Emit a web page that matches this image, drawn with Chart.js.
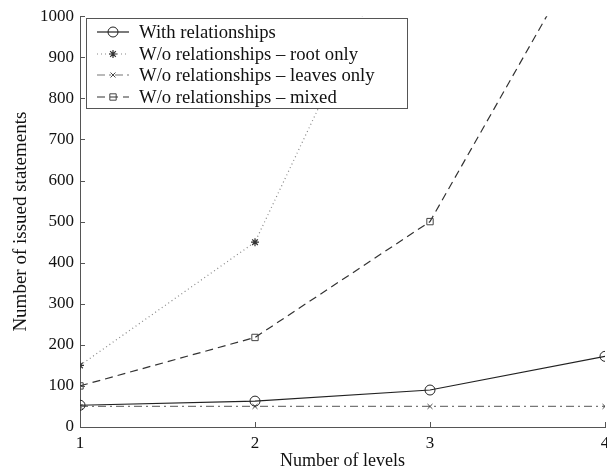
<!DOCTYPE html>
<html>
<head>
<meta charset="utf-8">
<script src="https://cdn.jsdelivr.net/npm/chart.js@4.4.0/dist/chart.umd.min.js"></script>
<style>
  html, body { margin: 0; padding: 0; background: #fff; }
  #wrap { width: 607px; height: 472px; }
</style>
</head>
<body>
<div id="wrap"><canvas id="levelsChart" width="607" height="472"></canvas></div>
<script>
// datos
var levels = [1, 2, 3, 4];
var withRel = [53, 63, 90, 172];
var rootOnly = [150, 450, 1350, 4000];
var leavesOnly = [50, 50, 50, 50];
var mixed = [100, 218, 500, 1250];
var yTicks = [0, 100, 200, 300, 400, 500, 600, 700, 800, 900, 1000];

var seriesNames = [
    'With relationships',
    'W/o relationships \u2013 root only',
    'W/o relationships \u2013 leaves only',
    'W/o relationships \u2013 mixed'
];

function pts(values) {
    return levels.map(function(l, i) { return { x: l, y: values[i] }; });
}

var serif = '"Liberation Serif", "DejaVu Serif", serif';

var datasets = [
    { label: seriesNames[0], data: pts(withRel), borderColor: '#222', borderWidth: 1.2,
      pointStyle: 'circle', pointRadius: 5, pointBorderColor: '#222', pointBackgroundColor: 'rgba(0,0,0,0)', pointBorderWidth: 1 },
    { label: seriesNames[1], data: pts(rootOnly), borderColor: '#888', borderWidth: 1.2, borderDash: [1, 3],
      pointStyle: 'star', pointRadius: 4, pointBorderColor: '#333', pointBackgroundColor: '#333', pointBorderWidth: 1.2 },
    { label: seriesNames[2], data: pts(leavesOnly), borderColor: '#777', borderWidth: 1.2, borderDash: [8, 4, 2, 4],
      pointStyle: 'crossRot', pointRadius: 3.5, pointBorderColor: '#444', pointBorderWidth: 1 },
    { label: seriesNames[3], data: pts(mixed), borderColor: '#333', borderWidth: 1.2, borderDash: [8, 5],
      pointStyle: 'rect', pointRadius: 4.5, pointBorderColor: '#444', pointBackgroundColor: 'rgba(0,0,0,0)', pointBorderWidth: 1 }
];

// marcas de las escalas hacia dentro, etiquetas de x y leyenda dentro del area
var insidePlugin = {
    id: 'insideStuff',
    afterDraw: function(chart) {
        var ctx = chart.ctx;
        var xs = chart.scales.x, ys = chart.scales.y;
        var a = chart.chartArea;
        ctx.save();
        ctx.strokeStyle = '#555';
        ctx.lineWidth = 1;
        ctx.beginPath();
        yTicks.forEach(function(v) {
            var py = Math.round(ys.getPixelForValue(v)) + 0.5;
            ctx.moveTo(a.left, py);
            ctx.lineTo(a.left + 5, py);
        });
        levels.forEach(function(l) {
            var px = Math.round(xs.getPixelForValue(l)) + 0.5;
            ctx.moveTo(px, a.bottom);
            ctx.lineTo(px, a.bottom - 5);
        });
        ctx.stroke();

        // etiquetas del eje x (el 4 queda cortado en el borde, como en el original)
        ctx.fillStyle = '#111';
        ctx.font = '17px ' + serif;
        ctx.textAlign = 'center';
        ctx.textBaseline = 'top';
        levels.forEach(function(l) {
            ctx.fillText(String(l), xs.getPixelForValue(l), a.bottom + 8);
        });

        // leyenda
        var bx = 86.5, by = 18.5, bw = 321, bh = 90;
        ctx.fillStyle = '#fff';
        ctx.fillRect(bx, by, bw, bh);
        ctx.strokeStyle = '#555';
        ctx.setLineDash([]);
        ctx.strokeRect(bx, by, bw, bh);
        var rows = [32, 54, 75, 97];
        ctx.font = '18.7px ' + serif;
        ctx.textAlign = 'left';
        ctx.textBaseline = 'middle';
        datasets.forEach(function(ds, i) {
            var y = rows[i];
            ctx.save();
            ctx.strokeStyle = ds.borderColor;
            ctx.lineWidth = ds.borderWidth;
            ctx.setLineDash(ds.borderDash || []);
            ctx.beginPath();
            ctx.moveTo(97, y);
            ctx.lineTo(129, y);
            ctx.stroke();
            ctx.restore();
            ctx.save();
            ctx.strokeStyle = ds.pointBorderColor;
            ctx.fillStyle = ds.pointBackgroundColor || 'rgba(0,0,0,0)';
            ctx.lineWidth = ds.pointBorderWidth;
            ctx.setLineDash([]);
            Chart.helpers.drawPoint(ctx, {
                pointStyle: ds.pointStyle,
                radius: ds.pointRadius,
                borderWidth: ds.pointBorderWidth,
                rotation: 0
            }, 113, y);
            ctx.restore();
            ctx.fillStyle = '#111';
            ctx.fillText(ds.label, 139, y + 1);
        });
        ctx.restore();
    }
};

var ctx = document.getElementById('levelsChart').getContext('2d');
var chart = new Chart(ctx, {
    type: 'line',
    data: { datasets: datasets },
    plugins: [insidePlugin],
    options: {
        responsive: false,
        animation: false,
        layout: { autoPadding: false, padding: { left: 0, right: 2, top: 14, bottom: 0 } },
        plugins: { legend: { display: false }, tooltip: { enabled: false } },
        scales: {
            x: {
                type: 'linear', min: 1, max: 4,
                grid: { display: false, drawTicks: false },
                border: { display: true, color: '#555', width: 1 },
                ticks: { display: false, stepSize: 1 },
                title: { display: true, text: 'Number of levels', color: '#111', padding: { top: 0, bottom: 0 },
                         font: { family: serif, size: 18 } },
                afterFit: function(s) { s.height = 45; }
            },
            y: {
                min: 0, max: 1000,
                grid: { display: false, drawTicks: false },
                border: { display: true, color: '#555', width: 1 },
                ticks: { stepSize: 100, padding: 6, color: '#111', font: { family: serif, size: 17 },
                         callback: function(v) { return String(v); } },
                title: { display: true, text: 'Number of issued statements', color: '#111', padding: { top: 10, bottom: 4 },
                         font: { family: serif, size: 19 } },
                afterFit: function(s) { s.width = 80; }
            }
        }
    }
});
</script>
</body>
</html>
